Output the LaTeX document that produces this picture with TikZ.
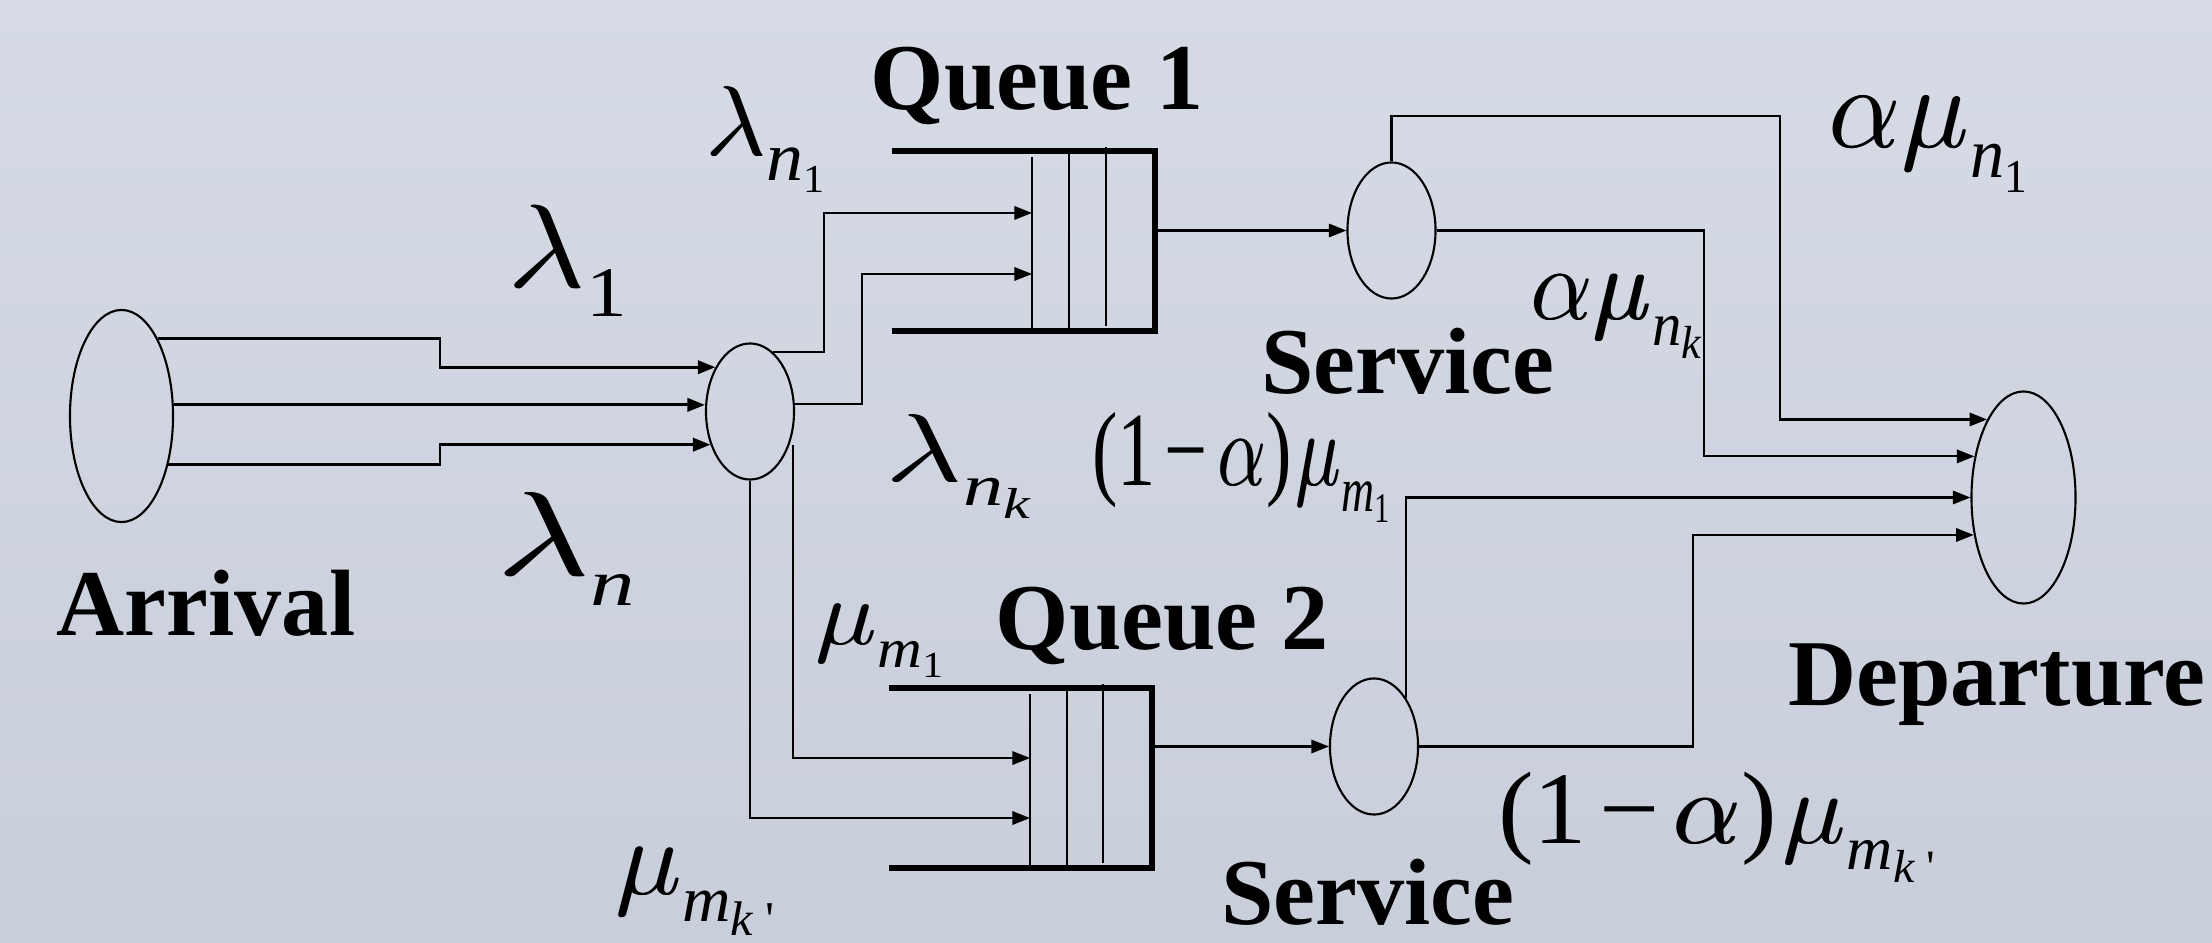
\documentclass[tikz,border=0pt]{standalone}
\usepackage{fix-cm}
\usepackage{fontspec}
\setmainfont{Liberation Serif}
\usepackage{graphicx}
\usetikzlibrary{shapes.geometric,arrows.meta}

% one unit of the drawing = 0.01cm
\newdimen\pxu \pxu=0.01cm
% subscript helper: drop (pt), size (pt), content
\newcommand\lowered[3]{\raisebox{-#1pt}{\fontsize{#2}{#2}\selectfont #3}}
% formula scaled to a given width and total height (in drawing units)
\newcommand\fitlabel[3]{\resizebox*{#1\pxu}{#2\pxu}{\fontsize{20}{20}\selectfont #3}}
\newcommand\mminus{\kern0.12em−\kern0.12em}
% Greek letters, doubled with a tiny shift to give them a little more weight
\newcommand\heavy[1]{\rlap{$#1$}\kern0.014em$#1$}
\newcommand\glam{\heavy{\lambda}}
\newcommand\galp{\heavy{\alpha}}
\newcommand\gmu{\heavy{\mu}}

\definecolor{bgtop}{RGB}{214,219,229}
\definecolor{bgbot}{RGB}{200,206,218}

\tikzset{
  conn/.style={line width=0.6pt, -{Triangle[length=5pt,width=3.8pt]}},
  feed/.style={line width=0.8pt, -{Triangle[length=5pt,width=3.8pt]}},
  station/.style={ellipse, draw, line width=0.6pt, inner sep=0pt},
  buffer/.style={rectangle, inner sep=0pt, outer sep=0pt},
  qwall/.style={line width=1.9pt},
  slot/.style={line width=0.6pt},
  title/.style={font=\fontsize{26.8}{30}\selectfont\bfseries, inner sep=0pt},
  formula/.style={inner sep=0pt, outer sep=0pt, anchor=north west},
}

\begin{document}
\begin{tikzpicture}[x=0.01cm, y=-0.01cm]
% background
\shade[top color=bgtop, bottom color=bgbot] (0,0) rectangle (2212,943);
\useasboundingbox (0,0) rectangle (2212,943);

% stations
\node[station, minimum width=1.03cm, minimum height=2.12cm] (arr) at (121.5,416) {};
\node[station, minimum width=0.88cm, minimum height=1.36cm] (split) at (750,411.5) {};
\node[station, minimum width=0.88cm, minimum height=1.36cm] (s1) at (1391.5,230.5) {};
\node[station, minimum width=0.88cm, minimum height=1.36cm] (s2) at (1374,746.5) {};
\node[station, minimum width=1.04cm, minimum height=2.12cm] (dep) at (2023.5,497.5) {};

% queue buffers
\node[buffer, minimum width=2.63cm, minimum height=1.80cm] (q1) at (1023.5,241) {};
\node[buffer, minimum width=2.63cm, minimum height=1.80cm] (q2) at (1020.5,778) {};
\draw[qwall] (q1.north west) -- (q1.north east) -- (q1.south east) -- (q1.south west);
\draw[qwall] (q2.north west) -- (q2.north east) -- (q2.south east) -- (q2.south west);
\draw[slot] (1032,157) -- (1032,331);
\draw[slot] (1069,151) -- (1069,331);
\draw[slot] (1106,147) -- (1106,326);
\draw[slot] (1030,694) -- (1030,868);
\draw[slot] (1067,688) -- (1067,868);
\draw[slot] (1103,684) -- (1103,863);

% bend points and entry points
\coordinate (b1) at (440,354);
\coordinate (b1b) at (440,454);
\coordinate (b2) at (824,280);
\coordinate (b3) at (862,340);
\coordinate (d0) at (793,445);
\coordinate (q1a) at (1032,213);
\coordinate (q1b) at (1032,274);
\coordinate (q2a) at (1030,758);
\coordinate (q2b) at (1030,818);
\coordinate (b4) at (1780,116);
\coordinate (b5) at (1704,300);
\coordinate (b6) at (1693,640);

% arrivals into the splitter
\draw[feed] (arr.65) -| (b1) |- (split.128);
\draw[feed] (arr.12) -- (arr.12 -| split.west);
\draw[feed] (arr.314) -| (b1b) |- (split.220);

% splitter to the queues
\draw[conn] (split.69) -| (b2) |- (q1a);
\draw[conn] (split.10) -| (b3) |- (q1b);
\draw[conn] (d0) |- (q2a);
\draw[conn] (split.south) |- (q2b);

% queues to the servers
\draw[conn] (q1.east |- s1) -- (s1.west);
\draw[conn] (q2.east |- s2) -- (s2.west);

% servers to departure
\draw[conn] (s1.north) |- (b4) |- (dep.115);
\draw[conn] (s1.east) -| (b5) |- (dep.140);
\draw[conn] (s2.57) |- (dep.west);
\draw[conn] (s2.east) -| (b6) |- (dep.217);

% titles
\node[title, anchor=base] (tq1) at (1037,110) {Queue 1};
\node[title, anchor=base] (tq2) at (1162,649) {Queue 2};
\node[title, anchor=base] (ts1) at (1408,394) {Service};
\node[title, anchor=base] (ts2) at (1368,924) {Service};
\node[title, anchor=base] (tarr) at (206,635) {Arrival};
\node[title, anchor=base] (tdep) at (1997,705) {Departure};

% rates
\node[formula] (fA) at (705,87) {\fitlabel{120}{106}{\glam\lowered{5}{14}{\itshape n\lowered{2.5}{8}{\upshape 1}}}};
\node[formula] (fB) at (507,205) {\fitlabel{120}{112}{\glam\lowered{5}{12}{1}}};
\node[formula] (fC) at (496,492) {\fitlabel{139}{113}{\glam\lowered{5}{11}{\itshape n}}};
\node[formula] (fD) at (885,415) {\fitlabel{145}{103}{\glam\lowered{5}{12}{\itshape n\lowered{2.5}{9}{k}}}};
\node[formula] (fE) at (1092,412) {\fitlabel{298}{110}{(1\mminus\galp)\kern0.05em\gmu\lowered{5}{12}{\itshape m\lowered{2}{8}{\upshape 1}}}};
\node[formula] (fF) at (1530,275) {\fitlabel{171}{83}{\galp\gmu\lowered{5}{12}{\itshape n\lowered{2.5}{9}{k}}}};
\node[formula] (fG) at (1828,97) {\fitlabel{199}{95}{\galp\gmu\lowered{5}{12}{\itshape n\lowered{2.5}{8}{\upshape 1}}}};
\node[formula] (fH) at (815,605) {\fitlabel{128}{72}{\gmu\lowered{5}{12}{\itshape m\lowered{2}{8}{\upshape 1}}}};
\node[formula] (fI) at (615,848) {\fitlabel{160}{87}{\gmu\lowered{5}{12}{\itshape m\lowered{2.5}{9}{k\kern0.25em\upshape\textquotesingle}}}};
\node[formula] (fJ) at (1498,772) {\fitlabel{437}{110}{(1\mminus\galp)\kern0.05em\gmu\lowered{5}{12}{\itshape m\lowered{2.5}{9}{k\kern0.25em\upshape\textquotesingle}}}};
\end{tikzpicture}
\end{document}
